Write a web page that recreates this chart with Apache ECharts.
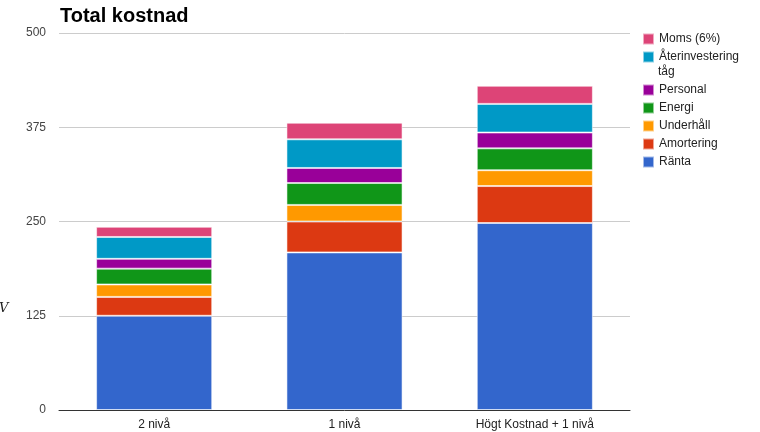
<!DOCTYPE html>
<html>
<head>
<meta charset="utf-8">
<script src="https://cdn.jsdelivr.net/npm/echarts@6/dist/echarts.min.js"></script>
<style>html,body{margin:0;padding:0;background:#fff}#c{width:760px;height:432px}</style>
</head>
<body>
<div id="c"></div>
<script>
const categories = ['2 nivå', '1 nivå', 'Högt Kostnad + 1 nivå'];
const ranta = [125, 209, 248];
const amortering = [25, 41, 49];
const underhall = [16.5, 22, 21];
const energi = [21, 29, 29];
const personal = [13, 20, 21];
const aterinvestering = [29, 38, 38];
const moms = [13.5, 22, 24];
const yTicks = [0, 125, 250, 375, 500];

const seriesDefs = [
  ['Ränta', ranta, '#3366cc'],
  ['Amortering', amortering, '#dc3912'],
  ['Underhåll', underhall, '#ff9900'],
  ['Energi', energi, '#109618'],
  ['Personal', personal, '#990099'],
  ['Återinvestering tåg', aterinvestering, '#0099c6'],
  ['Moms (6%)', moms, '#dd4477']
];

const chart = echarts.init(document.getElementById('c'), null, {renderer: 'canvas'});
const font = 'Arial, "Liberation Sans", sans-serif';
const legendCommon = {
  orient: 'vertical', left: 642, padding: 0, itemWidth: 11, itemHeight: 11, itemGap: 4,
  icon: 'rect', selectedMode: false,
  textStyle: {fontFamily: font, fontSize: 12, color: '#222', lineHeight: 14}
};
chart.setOption({
  animation: false,
  title: {text: 'Total kostnad', left: 55, top: 1,
    textStyle: {fontFamily: font, fontSize: 20, fontWeight: 'bold', color: '#000'}},
  legend: [
    Object.assign({}, legendCommon, {top: 32, data: ['Moms (6%)', 'Återinvestering tåg'],
      formatter: n => n === 'Återinvestering tåg' ? 'Återinvestering' : n}),
    Object.assign({}, legendCommon, {top: 83, data: ['Personal', 'Energi', 'Underhåll', 'Amortering', 'Ränta']})
  ],
  graphic: [
    {type: 'text', left: 658, top: 66, style: {text: 'tåg', font: '12px ' + font, fill: '#222'}},
    {type: 'text', left: -1, top: 302, style: {text: 'V', font: 'italic 13px "DejaVu Serif", serif', fill: '#222'}}
  ],
  grid: {left: 59, right: 130, top: 33, bottom: 22, containLabel: false},
  xAxis: {
    type: 'category', data: categories,
    axisLine: {lineStyle: {color: '#333', width: 1}},
    axisTick: {show: false},
    axisLabel: {fontFamily: font, fontSize: 12, color: '#222', margin: 9}
  },
  yAxis: {
    type: 'value', min: yTicks[0], max: yTicks[yTicks.length - 1], interval: 125,
    axisLine: {show: false}, axisTick: {show: false},
    splitLine: {lineStyle: {color: '#ccc', width: 1}},
    axisLabel: {fontFamily: font, fontSize: 12, color: '#444', margin: 13}
  },
  series: seriesDefs.map(([name, data, color]) => ({
    name, type: 'bar', stack: 'total', data, barWidth: '61%',
    itemStyle: {color, borderColor: 'rgba(255,255,255,0.55)', borderWidth: 1}
  }))
});
</script>
</body>
</html>
